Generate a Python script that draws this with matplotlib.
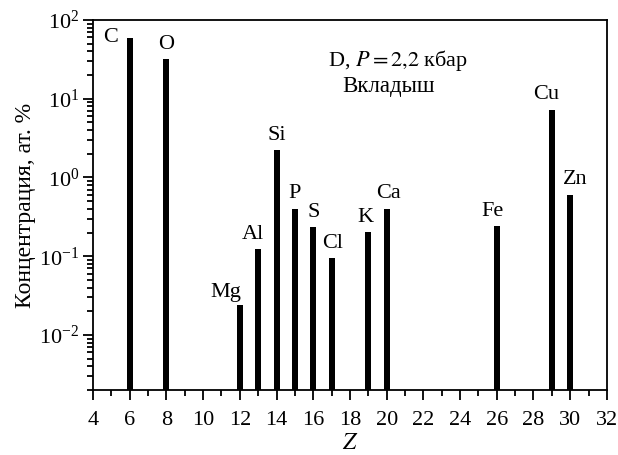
import numpy as np
import matplotlib
matplotlib.use("Agg")
import matplotlib.pyplot as plt
from matplotlib.ticker import FixedLocator, LogLocator, NullFormatter

plt.rcParams["font.family"] = ["Liberation Serif", "DejaVu Serif"]
plt.rcParams["mathtext.fontset"] = "stix"
plt.rcParams["font.size"] = 16

# data
elements = ["C", "O", "Mg", "Al", "Si", "P", "S", "Cl", "K", "Ca", "Fe", "Cu", "Zn"]
z_numbers = [6, 8, 12, 13, 14, 15, 16, 17, 19, 20, 26, 29, 30]
concentration = [58.5, 31.6, 0.022, 0.12, 2.23, 0.40, 0.23, 0.094, 0.20, 0.40, 0.24, 7.2, 0.60]

# label offsets in points (dx, dy) relative to bar top
label_offsets = {
    "C": (-14, -6), "O": (0, 4), "Mg": (-10, 4), "Al": (-4, 4), "Si": (0, 4),
    "P": (0, 4), "S": (0, 4), "Cl": (1, 4), "K": (-2, 4), "Ca": (1, 4),
    "Fe": (-3, 4), "Cu": (-4, 4), "Zn": (4, 4),
}

fig = plt.figure(figsize=(6.18, 4.55), dpi=100)
ax = fig.add_axes([0.1505, 0.1429, 0.8315, 0.8131])

ax.bar(z_numbers, concentration, width=0.33, color="black", bottom=0.002)
ax.set_yscale("log")
ax.set_ylim(0.002, 100)
ax.set_xlim(4, 32)

for el, z, c in zip(elements, z_numbers, concentration):
    dx, dy = label_offsets[el]
    ax.annotate(el, (z, c), xytext=(dx, dy), textcoords="offset points",
                ha="center", va="bottom", fontsize=16)

ax.text(0.593, 0.875, "D, $P = 2{,}2$ кбар", transform=ax.transAxes,
        ha="center", va="baseline", fontsize=16)
ax.text(0.576, 0.806, "Вкладыш", transform=ax.transAxes,
        ha="center", va="baseline", fontsize=16.5)

ax.xaxis.set_major_locator(FixedLocator(np.arange(4, 33, 2)))
ax.xaxis.set_minor_locator(FixedLocator(np.arange(5, 32, 2)))
ax.yaxis.set_major_locator(LogLocator(base=10, numticks=10))
ax.yaxis.set_minor_locator(LogLocator(base=10, subs=np.arange(2, 10), numticks=20))
ax.yaxis.set_minor_formatter(NullFormatter())

ax.tick_params(which="major", direction="out", length=7, width=1.3, labelsize=16)
ax.tick_params(which="minor", direction="out", length=4, width=1.3)
ax.tick_params(axis="x", which="major", pad=8)
ax.tick_params(axis="y", which="major", pad=3)
ax.tick_params(top=False, right=False)
for s in ax.spines.values():
    s.set_linewidth(1.3)

ax.set_xlabel("$Z$", fontsize=17, labelpad=2)
ax.set_ylabel("Концентрация, ат. %", fontsize=17, labelpad=2)

fig.savefig("out.png", dpi=100)
